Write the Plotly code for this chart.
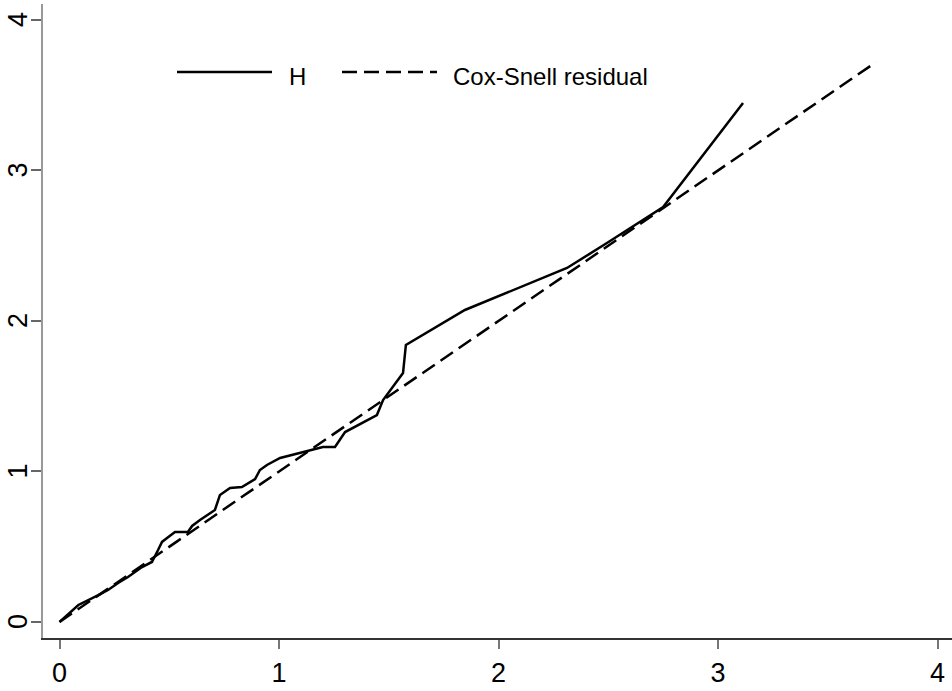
import plotly.graph_objects as go

# Nelson-Aalen cumulative hazard (H) vs Cox-Snell residual
cs_resid = [0.0, 0.086, 0.177, 0.221, 0.267, 0.312, 0.376, 0.421, 0.449, 0.467,
            0.490, 0.526, 0.585, 0.604, 0.640, 0.672, 0.708, 0.731, 0.777, 0.831,
            0.891, 0.913, 0.945, 1.005, 1.141, 1.200, 1.255, 1.301, 1.446, 1.474,
            1.565, 1.578, 1.847, 2.312, 2.494, 2.750, 3.114]
H = [0.0, 0.113, 0.179, 0.213, 0.259, 0.299, 0.365, 0.399, 0.478, 0.532,
     0.558, 0.598, 0.598, 0.638, 0.678, 0.711, 0.744, 0.844, 0.890, 0.897,
     0.950, 1.010, 1.043, 1.090, 1.143, 1.163, 1.163, 1.262, 1.375, 1.475,
     1.654, 1.841, 2.073, 2.352, 2.518, 2.757, 3.449]

# reference line: Cox-Snell residual against itself
ref_x = [0.0, 3.72]
ref_y = [0.0, 3.72]

tick_vals = [0, 1, 2, 3, 4]
tick_text = ["0", "1", "2", "3", "4"]

series_names = ["H", "Cox-Snell residual"]

W, Hh = 952, 691
L, R, T, B = 43, 0, 4, 53
YRANGE = [-0.1063, 4.106]
XRANGE = [-0.0752, 4.066]

fig = go.Figure()
fig.add_trace(go.Scatter(x=cs_resid, y=H, mode="lines", name=series_names[0],
                         line=dict(color="black", width=2.5), showlegend=False))
fig.add_trace(go.Scatter(x=ref_x, y=ref_y, mode="lines", name=series_names[1],
                         line=dict(color="black", width=2.5, dash="15px,7px"),
                         showlegend=False))

font = dict(family="Liberation Sans, Arial, sans-serif", color="black")

fig.update_layout(
    width=W, height=Hh,
    margin=dict(l=L, r=R, t=T, b=B, pad=0, autoexpand=False),
    paper_bgcolor="white", plot_bgcolor="white",
    font=font,
    xaxis=dict(range=XRANGE, tickvals=tick_vals, ticktext=tick_text,
               showgrid=False, zeroline=False, showline=True, automargin=False,
               linecolor="#333333", linewidth=1.5,
               ticks="outside", ticklen=9, tickwidth=1.5, tickcolor="#777777",
               tickfont=dict(size=27, family=font["family"], color="black"),
               ticklabelstandoff=1),
    yaxis=dict(range=YRANGE, tickvals=tick_vals, ticktext=tick_text,
               showgrid=False, zeroline=False, showline=True, automargin=False,
               linecolor="#999999", linewidth=2,
               ticks="outside", ticklen=10, tickwidth=1.5, tickcolor="#666666",
               showticklabels=False),
)

def px_x(p):
    return (p - L) / (W - L - R)

def px_y(p):
    return (Hh - B - p) / (Hh - B - T)

# rotated y tick labels (placed at the y axis tick values)
for v, t in zip(tick_vals, tick_text):
    fig.add_annotation(xref="paper", yref="y", x=px_x(18), y=v, text=t,
                       textangle=-90, showarrow=False, xanchor="center",
                       yanchor="middle",
                       font=dict(size=27, family=font["family"], color="black"))

# manual legend (paper coordinates)
fig.add_shape(type="line", xref="paper", yref="paper",
              x0=px_x(177), x1=px_x(272), y0=px_y(72), y1=px_y(72),
              line=dict(color="black", width=2.5))
fig.add_shape(type="line", xref="paper", yref="paper",
              x0=px_x(342), x1=px_x(437), y0=px_y(72), y1=px_y(72),
              line=dict(color="black", width=2.5, dash="15px,7px"))
fig.add_annotation(xref="paper", yref="paper", x=px_x(287), y=px_y(77),
                   text=series_names[0], showarrow=False, xanchor="left",
                   yanchor="middle", font=dict(size=24, family=font["family"], color="black"))
fig.add_annotation(xref="paper", yref="paper", x=px_x(451), y=px_y(77),
                   text=series_names[1], showarrow=False, xanchor="left",
                   yanchor="middle", font=dict(size=24, family=font["family"], color="black"))

fig.write_html("out.html")
